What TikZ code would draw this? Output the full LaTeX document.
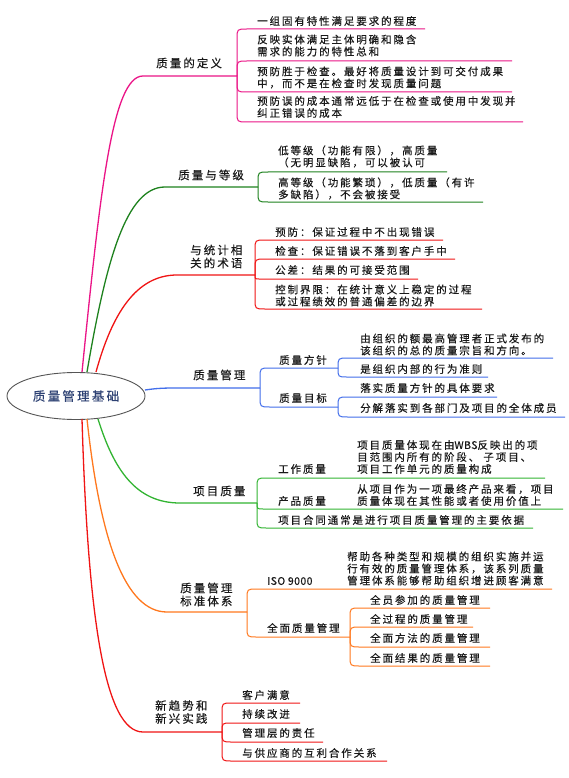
\documentclass[tikz,border=0pt]{standalone}
\usepackage{fontspec}
\newfontfamily\zh[LetterSpace=18,FakeBold=0.35]{Noto Sans CJK SC}
\newfontfamily\zhl[LetterSpace=4,FakeBold=0.35]{Noto Sans CJK SC}
\usetikzlibrary{shapes.geometric}
\definecolor{ink}{RGB}{25,25,25}
\definecolor{rootink}{RGB}{45,65,115}
\definecolor{cMag}{RGB}{235,20,135}
\definecolor{cDkGreen}{RGB}{30,130,30}
\definecolor{cRed}{RGB}{240,20,20}
\definecolor{cBlue}{RGB}{66,110,235}
\definecolor{cLtGreen}{RGB}{50,180,50}
\definecolor{cOrange}{RGB}{255,120,30}
\newcommand\kid[4]{%
  \pgfmathsetmacro\kdd{(#3)-(#2)}%
  \pgfmathsetmacro\krr{min(10,abs(\kdd))}%
  \pgfmathsetmacro\ksg{sign(\kdd)}%
  \pgfmathsetmacro\kvy{(#3)-(\ksg)*(\krr)}%
  \pgfmathsetmacro\khx{(#1)+(\krr)}%
  \draw (#1,#2) -- (#1,\kvy) .. controls (#1,#3) .. (\khx,#3) -- (#4,#3);}
\begin{document}
\begin{tikzpicture}[x=1pt,y=-1pt,
  txt/.style={anchor=west, inner sep=0pt, align=left, text=ink, font=\zh\fontsize{10.5}{12}\selectfont},
  lab/.style={txt, font=\zh\fontsize{11.5}{13}\selectfont},
  trunk/.style={line width=1.3pt},
  twig/.style={line width=1pt}]
\fill[white] (0,0) rectangle (568,778);
\useasboundingbox (0,0) rectangle (568,778);

% root
\node[ellipse, draw={rgb,255:red,85;green,85;blue,85}, line width=0.9pt, minimum width=138pt, minimum height=47pt, inner sep=0pt,
      text=rootink, font=\zh\fontsize{12.5}{14}\selectfont] (r) at (76,396) {质量管理基础};

% ---------- branch 1
\begin{scope}[draw=cMag]
\coordinate (b1) at (237,76);
\draw[trunk] (82,372) .. controls (100,194) and (112,76) .. (143,76) -- (b1);
\begin{scope}[twig]
\kid{237}{76}{29}{425}
\kid{237}{76}{61}{512}
\kid{237}{76}{92}{512}
\kid{237}{76}{122}{523}
\end{scope}
\end{scope}
\node[lab] (d0) at (156,63) {质量的定义};
\node[txt] (d1) at (257,21) {一组固有特性满足要求的程度};
\node[txt] (d2) at (257,45.5) {反映实体满足主体明确和隐含\\需求的能力的特性总和};
\node[txt] (d3) at (257,77.5) {预防胜于检查。最好将质量设计到可交付成果\\中，而不是在检查时发现质量问题};
\node[txt] (d4) at (257,107) {预防误的成本通常远低于在检查或使用中发现并\\纠正错误的成本};

% ---------- branch 2
\begin{scope}[draw=cDkGreen]
\coordinate (b2) at (258,187);
\draw[trunk] (87,372) .. controls (106,261) and (126,187) .. (165,187) -- (b2);
\begin{scope}[twig]
\kid{258}{187}{172}{447}
\kid{258}{187}{202}{483}
\end{scope}
\end{scope}
\node[lab] (g0) at (178,175) {质量与等级};
\node[txt] (g1) at (278,156.5) {低等级（功能有限），高质量\\（无明显缺陷，可以被认可};
\node[txt] (g2) at (278,188.5) {高等级（功能繁琐），低质量（有许\\多缺陷），不会被接受};

% ---------- branch 3
\begin{scope}[draw=cRed]
\coordinate (b3) at (255,275);
\draw[trunk] (96,372) .. controls (112,314) and (136,275) .. (177,275) -- (b3);
\begin{scope}[twig]
\kid{255}{275}{240}{443}
\kid{255}{275}{259}{455}
\kid{255}{275}{279}{418}
\kid{255}{275}{309}{482}
\end{scope}
\end{scope}
\node[lab] (s0) at (190,256.5) {与统计相\\关的术语};
\node[txt] (s1) at (275,232) {预防：保证过程中不出现错误};
\node[txt] (s2) at (275,251) {检查：保证错误不落到客户手中};
\node[txt] (s3) at (275,270) {公差：结果的可接受范围};
\node[txt] (s4) at (275,295.5) {控制界限：在统计意义上稳定的过程\\或过程绩效的普通偏差的边界};

% ---------- branch 4
\begin{scope}[draw=cBlue]
\coordinate (b4) at (260,388);
\draw[trunk] (145,390) .. controls (155,388.5) and (162,388) .. (175,388) -- (b4);
\begin{scope}[twig]
\kid{260}{388}{368}{338}
\kid{260}{388}{407}{338}
\kid{338}{368}{358}{553}
\kid{338}{368}{377}{488}
\kid{338}{407}{397}{497}
\kid{338}{407}{417}{565}
\end{scope}
\end{scope}
\node[lab] (m0) at (193,375) {质量管理};
\node[txt] (m1) at (279,360) {质量方针};
\node[txt] (m2) at (279,398) {质量目标};
\node[txt] (m11) at (360,344.5) {由组织的额最高管理者正式发布的\\该组织的总的质量宗旨和方向。};
\node[txt] (m12) at (360,369) {是组织内部的行为准则};
\node[txt] (m21) at (360,388) {落实质量方针的具体要求};
\node[txt] (m22) at (360,408) {分解落实到各部门及项目的全体成员};

% ---------- branch 5
\begin{scope}[draw=cLtGreen]
\coordinate (b5) at (257,503);
\draw[trunk] (98,419) .. controls (114,470) and (136,503) .. (180,503) -- (b5);
\begin{scope}[twig]
\kid{257}{503}{478}{545}
\kid{257}{503}{509}{563}
\kid{257}{503}{528}{533}
\end{scope}
\end{scope}
\node[lab] (p0) at (193,491) {项目质量};
\node[txt] (p1) at (278,469) {工作质量};
\node[txt] (p1c) at (357,457) {项目质量体现在由{\zhl WBS}反映出的项\\目范围内所有的阶段、 子项目、\\项目工作单元的质量构成};
\node[txt] (p2) at (278,501) {产品质量};
\node[txt] (p2c) at (357,495) {从项目作为一项最终产品来看，项目\\质量体现在其性能或者使用价值上};
\node[txt] (p3) at (278,520) {项目合同通常是进行项目质量管理的主要依据};

% ---------- branch 6
\begin{scope}[draw=cOrange]
\coordinate (b6) at (247,612);
\draw[trunk] (87,419) .. controls (100,540) and (125,612) .. (167,612) -- (b6);
\begin{scope}[twig]
\kid{247}{612}{589}{552}
\kid{247}{612}{637}{350}
\kid{350}{637}{608}{490}
\kid{350}{637}{627}{473}
\kid{350}{637}{647}{490}
\kid{350}{637}{666}{490}
\end{scope}
\end{scope}
\node[lab] (b0) at (180,594.5) {质量管理\\标准体系};
\node[txt, font=\zhl\fontsize{10.5}{12}\selectfont] (b1) at (267,581) {ISO 9000};
\node[txt] (b1c) at (347,568.5) {帮助各种类型和规模的组织实施并运\\行有效的质量管理体系，该系列质量\\管理体系能够帮助组织增进顾客满意};
\node[txt] (b2n) at (267,628) {全面质量管理};
\node[txt] (b21) at (370,600) {全员参加的质量管理};
\node[txt] (b22) at (370,619) {全过程的质量管理};
\node[txt] (b23) at (370,638) {全面方法的质量管理};
\node[txt] (b24) at (370,658) {全面结果的质量管理};

% ---------- branch 7
\begin{scope}[draw=cRed]
\coordinate (b7) at (222,732);
\draw[trunk] (82,419) .. controls (88,620) and (105,732) .. (143,732) -- (b7);
\begin{scope}[twig]
\kid{222}{732}{703}{300}
\kid{222}{732}{723}{300}
\kid{222}{732}{742}{323}
\kid{222}{732}{761}{387}
\end{scope}
\end{scope}
\node[lab] (x0) at (155,712) {新趋势和\\新兴实践};
\node[txt] (x1) at (242,695) {客户满意};
\node[txt] (x2) at (242,714) {持续改进};
\node[txt] (x3) at (242,733) {管理层的责任};
\node[txt] (x4) at (242,753) {与供应商的互利合作关系};
\end{tikzpicture}
\end{document}
